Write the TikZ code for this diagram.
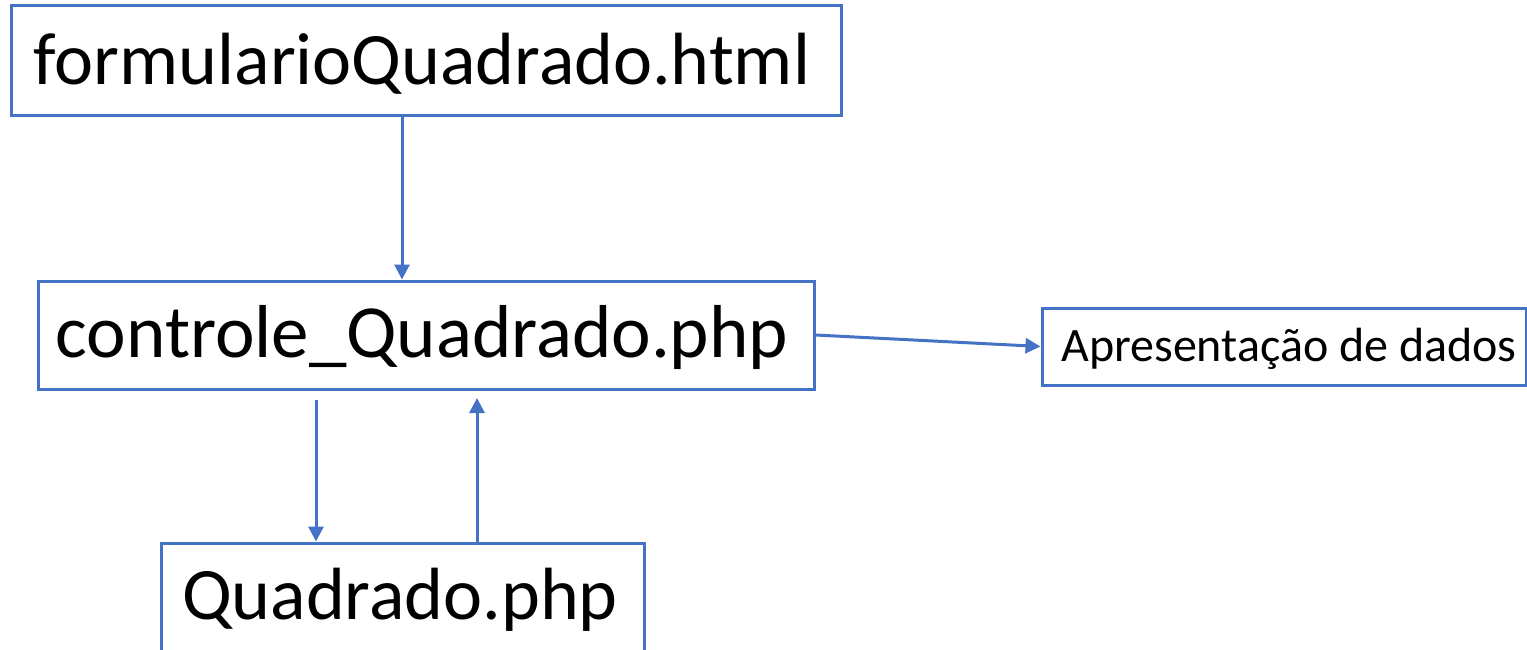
\documentclass[tikz,border=0pt]{standalone}
\usepackage{fontspec}
\setmainfont{Carlito}
\usetikzlibrary{arrows.meta,calc}
\definecolor{boxblue}{HTML}{4472C4}
\tikzset{
  box/.style={draw=boxblue, line width=3pt, inner sep=0pt, anchor=center},
  lbl/.style={inner sep=0pt, text=black},
  arr/.style={draw=boxblue, line width=3pt, -{Triangle[width=15pt,length=15pt]}}
}
\begin{document}
\begin{tikzpicture}[x=1pt,y=-1pt]
\useasboundingbox (0,0) rectangle (1527,650);
\node[box, minimum width=830pt, minimum height=110pt] (form) at (426,61) {};
\node[lbl, font=\fontsize{74}{78}\selectfont] (formtxt) at (422,64) {formularioQuadrado.html};
\node[box, minimum width=776pt, minimum height=108pt] (ctrl) at (426,335) {};
\node[lbl, font=\fontsize{75}{79}\selectfont] (ctrltxt) at (422,338) {controle\_Quadrado.php};
\node[box, minimum width=484pt, minimum height=77pt] (apres) at (1284,346.5) {};
\node[lbl, font=\fontsize{48}{52}\selectfont] (aprestxt) at (1289,348.5) {Apresentação de dados};
\node[box, minimum width=483pt, minimum height=108pt] (quad) at (402.5,597) {};
\node[lbl, font=\fontsize{74}{78}\selectfont] (quadtxt) at (400,600) {Quadrado.php};
\coordinate (c1) at (316,400);
\coordinate (c2) at (477,398);
\draw[arr] (form.south -| 402,0) -- (ctrl.north -| 402,0);
\draw[arr] (c1) -- (quad.north -| c1);
\draw[arr] (quad.north -| c2) -- (c2);
\draw[arr] (ctrl.east) -- (apres.west);
\end{tikzpicture}
\end{document}
